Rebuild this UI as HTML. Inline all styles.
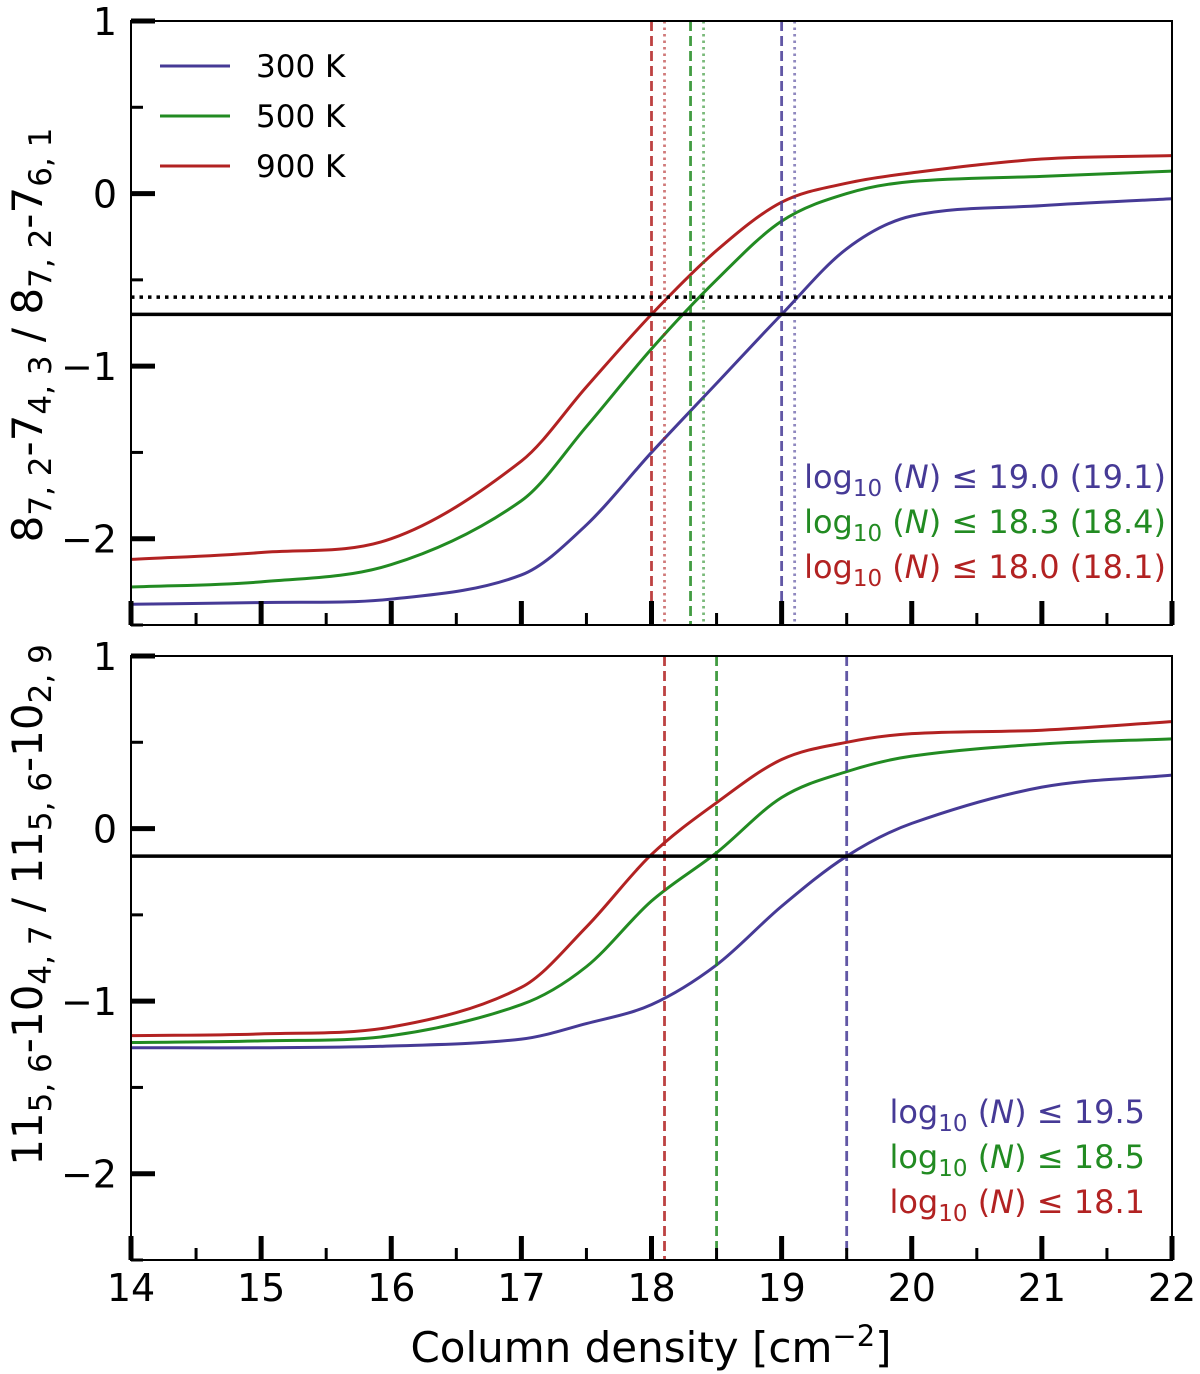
<!DOCTYPE html>
<html><head><meta charset="utf-8"><style>
body{margin:0;background:#fff}
svg{display:block;font-family:"DejaVu Sans","Liberation Sans",sans-serif}
</style></head><body>
<svg id="chart" width="1200" height="1374" viewBox="0 0 1200 1374" xmlns="http://www.w3.org/2000/svg"></svg>
<script>
const xs = [14,15,16,17,17.5,18,18.5,19,19.5,20,21,22];
const topBlue  = [-2.38,-2.37,-2.35,-2.21,-1.92,-1.5,-1.1,-0.7,-0.32,-0.13,-0.07,-0.03];
const topGreen = [-2.28,-2.25,-2.15,-1.78,-1.35,-0.9,-0.5,-0.16,0.0,0.07,0.1,0.13];
const topRed   = [-2.12,-2.08,-2.0,-1.55,-1.12,-0.7,-0.33,-0.05,0.06,0.12,0.2,0.22];
const botBlue  = [-1.27,-1.27,-1.26,-1.22,-1.13,-1.02,-0.79,-0.45,-0.16,0.03,0.24,0.31];
const botGreen = [-1.24,-1.23,-1.2,-1.02,-0.8,-0.42,-0.14,0.18,0.33,0.42,0.49,0.52];
const botRed   = [-1.2,-1.19,-1.15,-0.92,-0.57,-0.15,0.15,0.4,0.5,0.55,0.57,0.62];
// order: 300 K, 500 K, 900 K
const topDashed = [19.0,18.3,18.0];
const topDotted = [19.1,18.4,18.1];
const botDashed = [19.5,18.5,18.1];
const topHSolid = -0.7, topHDotted = -0.6, botHSolid = -0.16;
const xTicks = [14,15,16,17,18,19,20,21,22];
const yTicks = [1,0,-1,-2];
const yTickLabels = ["1","0","\u22121","\u22122"];
const topLabels = ["19.0 (19.1)","18.3 (18.4)","18.0 (18.1)"];
const botLabels = ["19.5","18.5","18.1"];
const legendNames = ["300 K","500 K","900 K"];

const C = ["#463a96","#228b22","#b22222"];
const NS="http://www.w3.org/2000/svg";
const svg=document.getElementById('chart');
const X0=131,X1=1172;
function xp(v){return X0+(v-14)/(22-14)*(X1-X0);}
function mk(tag,attrs,parent){const e=document.createElementNS(NS,tag);for(const k in attrs)e.setAttribute(k,attrs[k]);(parent||svg).appendChild(e);return e;}
function smooth(pts){
  const n=pts.length,m=[];
  for(let i=0;i<n;i++){const a=pts[Math.max(0,i-1)],b=pts[Math.min(n-1,i+1)];m.push((b[1]-a[1])/(b[0]-a[0]));}
  let d=`M${pts[0][0]},${pts[0][1]}`;
  for(let i=0;i<n-1;i++){const p1=pts[i],p2=pts[i+1],dx=(p2[0]-p1[0])/3;
    d+=` C${p1[0]+dx},${p1[1]+m[i]*dx} ${p2[0]-dx},${p2[1]-m[i+1]*dx} ${p2[0]},${p2[1]}`;}
  return d;}

function panel(name,T,B,series,dashed,dotted,hlines,labels,labX,showLegend){
  const yp=v=>T+(1-v)/3.5*(B-T);
  const g=mk('g',{});
  
  
  series.forEach((s,i)=>{const p=mk('path',{d:smooth(xs.map((x,j)=>[xp(x),yp(s[j])])),fill:'none',stroke:C[i],'stroke-width':3},g);
    
    });
  dashed.forEach((v,i)=>{const l=mk('line',{x1:xp(v),x2:xp(v),y1:T,y2:B,stroke:C[i],'stroke-width':2.8,'stroke-dasharray':'10,5','opacity':0.85},g);
    });
  dotted.forEach((v,i)=>{const l=mk('line',{x1:xp(v),x2:xp(v),y1:T,y2:B,stroke:C[i],'stroke-width':2.8,'stroke-dasharray':'2.5,4','opacity':0.6},g);
    });
  hlines.forEach(h=>{const l=mk('line',{x1:X0,x2:X1,y1:yp(h.v),y2:yp(h.v),stroke:'#000','stroke-width':3.5,'stroke-dasharray':h.dot?'3.5,5':'none'},g);
    });
  const fr=mk('rect',{x:X0,y:T,width:X1-X0,height:B-T,fill:'none',stroke:'#000','stroke-width':2},g);
  
  xTicks.forEach(v=>{mk('line',{x1:xp(v),x2:xp(v),y1:B,y2:B-24,stroke:'#000','stroke-width':5},g);
    if(v<22)mk('line',{x1:xp(v+0.5),x2:xp(v+0.5),y1:B,y2:B-12,stroke:'#000','stroke-width':3},g);});
  yTicks.forEach((v,i)=>{mk('line',{x1:X0,x2:X0+24,y1:yp(v),y2:yp(v),stroke:'#000','stroke-width':5},g);
    mk('line',{x1:X0,x2:X0+12,y1:yp(v-0.5),y2:yp(v-0.5),stroke:'#000','stroke-width':3},g);
    const t=mk('text',{x:X0-14,y:yp(v)+14,'font-size':38,'text-anchor':'end'},g);t.textContent=yTickLabels[i];
    });
  labels.forEach((s,i)=>{const t=mk('text',{x:labX,y:B-137+i*45,'font-size':32,'text-anchor':'end',fill:C[i]},g);
    t.innerHTML=`log<tspan font-size="23" dy="8">10</tspan><tspan dy="-8"> (<tspan font-style="italic">N</tspan>) \u2264 ${s}</tspan>`;
    });
  if(showLegend){legendNames.forEach((n,i)=>{const y=T+45+i*50;
    const l=mk('line',{x1:160,x2:230,y1:y,y2:y,stroke:C[i],'stroke-width':3},g);
    
    const t=mk('text',{x:256,y:y+11,'font-size':31},g);t.textContent=n;
    });}
}
panel('top-panel',21,625,[topBlue,topGreen,topRed],topDashed,topDotted,[{v:topHDotted,dot:true},{v:topHSolid}],topLabels,1166,true);
panel('bottom-panel',656,1260,[botBlue,botGreen,botRed],botDashed,[],[{v:botHSolid}],botLabels,1145,false);
xTicks.forEach(v=>{const t=mk('text',{x:xp(v),y:1301,'font-size':38,'text-anchor':'middle'});t.textContent=v;
  });
let t=mk('text',{x:651,y:1362,'font-size':42,'text-anchor':'middle'});
t.innerHTML='Column density [cm<tspan font-size="29" dy="-16">\u22122</tspan><tspan dy="16">]</tspan>';

const SUB='font-size="31" dy="9"';
t=mk('text',{x:0,y:0,'font-size':42,'text-anchor':'middle',transform:'translate(42,335) rotate(-90)'});
t.innerHTML=`8<tspan ${SUB}>7, 2</tspan><tspan dy="-9">-7</tspan><tspan ${SUB}>4, 3</tspan><tspan dy="-9"> / 8</tspan><tspan ${SUB}>7, 2</tspan><tspan dy="-9">-7</tspan><tspan ${SUB}>6, 1</tspan>`;

t=mk('text',{x:0,y:0,'font-size':42,'text-anchor':'middle',transform:'translate(42,905) rotate(-90)'});
t.innerHTML=`11<tspan ${SUB}>5, 6</tspan><tspan dy="-9">-10</tspan><tspan ${SUB}>4, 7</tspan><tspan dy="-9"> / 11</tspan><tspan ${SUB}>5, 6</tspan><tspan dy="-9">-10</tspan><tspan ${SUB}>2, 9</tspan>`;

</script>
</body></html>
